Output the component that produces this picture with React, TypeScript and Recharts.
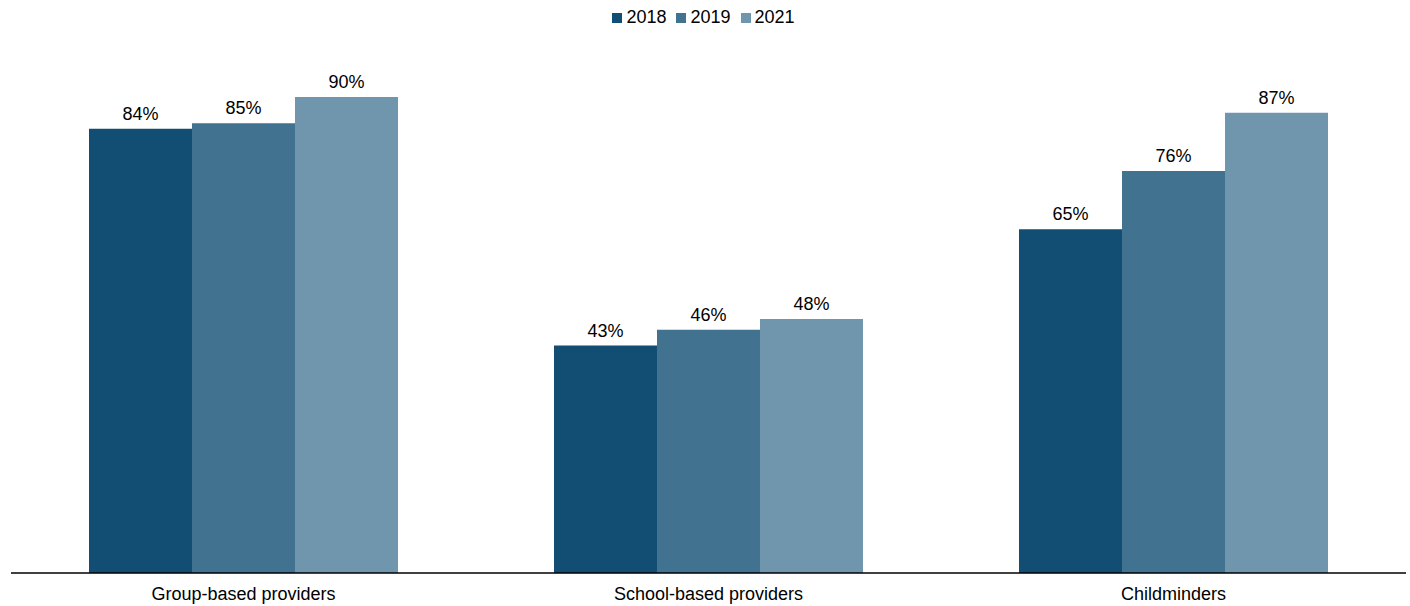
import { BarChart, Bar, XAxis, YAxis, Legend, LabelList } from "recharts";

const categories = ["Group-based providers", "School-based providers", "Childminders"];
const values2018 = [84, 43, 65];
const values2019 = [85, 46, 76];
const values2021 = [90, 48, 87];

const data = categories.map((name, i) => ({
  name,
  y2018: values2018[i],
  y2019: values2019[i],
  y2021: values2021[i],
}));

const font = "'Liberation Sans', Arial, sans-serif";
const pct = (v: any) => `${v}%`;

const App = () => {
  return (
    <div style={{ position: "absolute", left: 0, top: 0, fontFamily: font }}>
      <BarChart
        width={1410}
        height={606}
        data={data}
        margin={{ top: 22, right: 4, left: 11, bottom: 3 }}
        barSize={103}
        barGap={0}
      >
        <XAxis
          dataKey="name"
          height={30}
          tickLine={false}
          tickSize={0}
          tickMargin={14}
          axisLine={{ stroke: "#000", strokeWidth: 1.5 }}
          tick={{ fill: "#000", fontSize: 18, fontFamily: font }}
        />
        <YAxis hide domain={[0, 100]} />
        <Legend
          verticalAlign="top"
          align="center"
          iconType="square"
          iconSize={10}
          wrapperStyle={{ top: 6, fontSize: 18, lineHeight: "22px", color: "#000" }}
          formatter={(v: any) => <span style={{ color: "#000", fontSize: 18 }}>{v}</span>}
        />
        <Bar dataKey="y2018" name="2018" fill="#124E74" isAnimationActive={false}>
          <LabelList dataKey="y2018" position="top" offset={9} formatter={pct} fill="#000" fontSize={18} fontFamily={font} />
        </Bar>
        <Bar dataKey="y2019" name="2019" fill="#41728F" isAnimationActive={false}>
          <LabelList dataKey="y2019" position="top" offset={9} formatter={pct} fill="#000" fontSize={18} fontFamily={font} />
        </Bar>
        <Bar dataKey="y2021" name="2021" fill="#7096AE" isAnimationActive={false}>
          <LabelList dataKey="y2021" position="top" offset={9} formatter={pct} fill="#000" fontSize={18} fontFamily={font} />
        </Bar>
      </BarChart>
    </div>
  );
};

export default App;
